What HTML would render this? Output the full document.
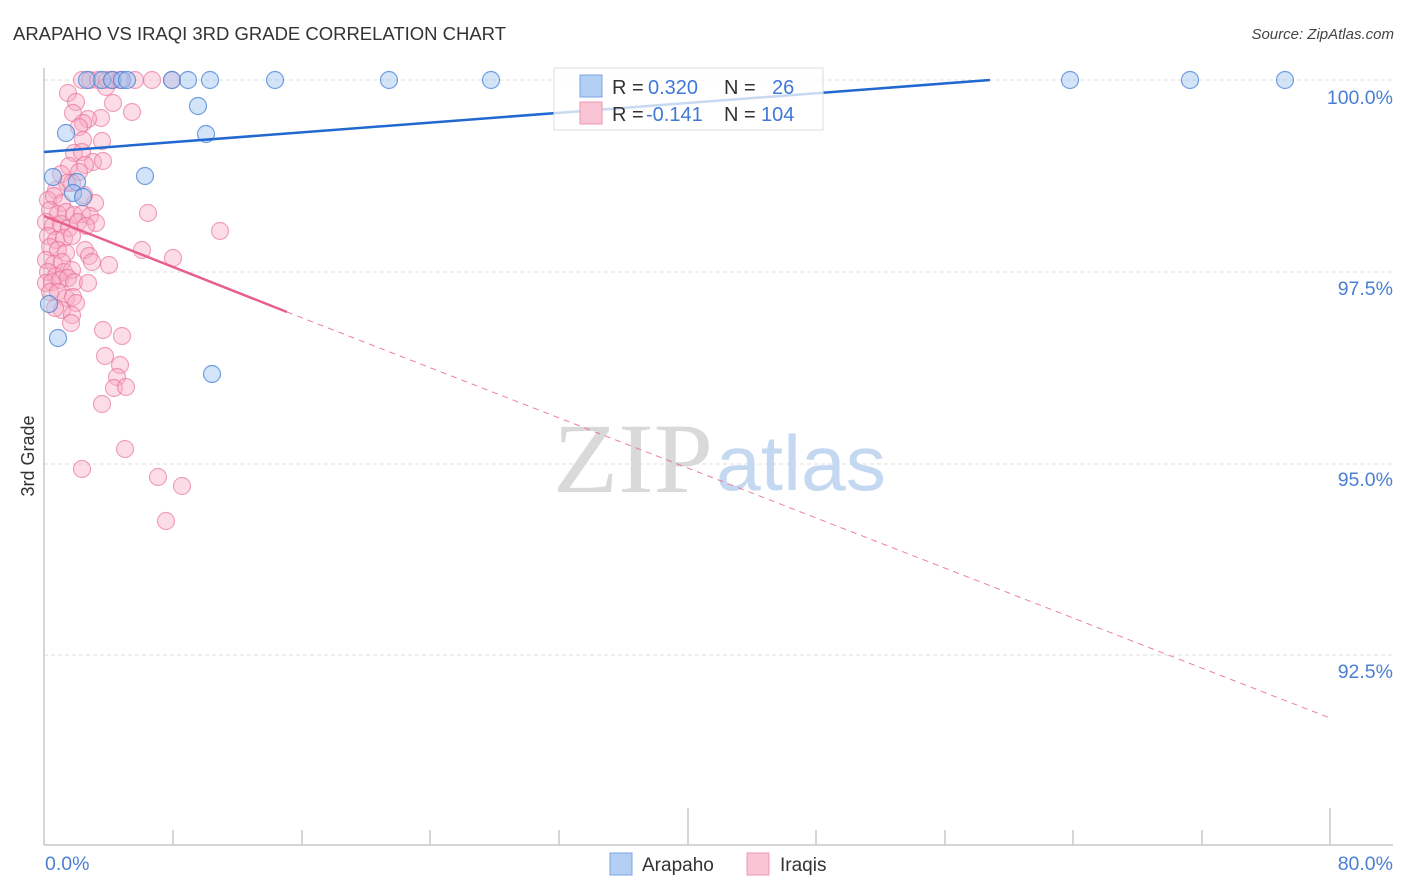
<!DOCTYPE html>
<html><head><meta charset="utf-8"><style>
html,body{margin:0;padding:0;background:#fff;}
svg{display:block;font-family:"Liberation Sans",sans-serif;}
</style></head><body>
<svg width="1406" height="892" viewBox="0 0 1406 892" xmlns="http://www.w3.org/2000/svg">
<rect width="1406" height="892" fill="#fff"/>
<text x="13" y="40" font-size="18" fill="#333" textLength="493" lengthAdjust="spacingAndGlyphs">ARAPAHO VS IRAQI 3RD GRADE CORRELATION CHART</text>
<text x="1394" y="39" font-size="15" fill="#444" font-style="italic" text-anchor="end">Source: ZipAtlas.com</text>

<g stroke="#dcdcdc" stroke-width="1" stroke-dasharray="4,3">
<line x1="44" y1="80" x2="1393" y2="80"/>
<line x1="44" y1="272" x2="1393" y2="272"/>
<line x1="44" y1="464" x2="1393" y2="464"/>
<line x1="44" y1="655" x2="1393" y2="655"/>
</g>
<g stroke="#c8c8c8" stroke-width="1.5">
<line x1="44" y1="68" x2="44" y2="845"/>
<line x1="44" y1="845" x2="1393" y2="845"/>
<line x1="173" y1="830" x2="173" y2="845"/>
<line x1="302" y1="830" x2="302" y2="845"/>
<line x1="430" y1="830" x2="430" y2="845"/>
<line x1="559" y1="830" x2="559" y2="845"/>
<line x1="688" y1="808" x2="688" y2="845"/>
<line x1="816" y1="830" x2="816" y2="845"/>
<line x1="945" y1="830" x2="945" y2="845"/>
<line x1="1073" y1="830" x2="1073" y2="845"/>
<line x1="1202" y1="830" x2="1202" y2="845"/>
<line x1="1330" y1="808" x2="1330" y2="845"/>
</g>

<text x="553" y="492" font-size="100" fill="#d9d9d9" font-family="Liberation Serif,serif" textLength="160" lengthAdjust="spacingAndGlyphs">ZIP</text>
<text x="716" y="490" font-size="78" fill="#c5d8f1" font-family="Liberation Sans,sans-serif" textLength="170" lengthAdjust="spacingAndGlyphs">atlas</text>

<g font-size="19.5" fill="#4a7fd4" text-anchor="end">
<text x="1393" y="104">100.0%</text>
<text x="1393" y="295">97.5%</text>
<text x="1393" y="486">95.0%</text>
<text x="1393" y="678">92.5%</text>
</g>
<text x="45" y="870" font-size="19.5" fill="#4a7fd4">0.0%</text>
<text x="1393" y="870" font-size="19.5" fill="#4a7fd4" text-anchor="end">80.0%</text>
<text transform="translate(34,456) rotate(-90)" font-size="18" fill="#333" text-anchor="middle">3rd Grade</text>

<!-- pink points -->
<g fill="rgba(248,170,195,0.4)" stroke="rgba(232,110,150,0.62)" stroke-width="1.2">
<circle cx="82" cy="80" r="8.5"/><circle cx="90" cy="80" r="8.5"/><circle cx="98" cy="80" r="8.5"/><circle cx="107" cy="80" r="8.5"/><circle cx="113" cy="80" r="8.5"/><circle cx="120" cy="80" r="8.5"/><circle cx="135" cy="80" r="8.5"/><circle cx="152" cy="80" r="8.5"/><circle cx="172" cy="80" r="8.5"/>
<circle cx="106" cy="87" r="8.5"/><circle cx="68" cy="93" r="8.5"/><circle cx="76" cy="102" r="8.5"/><circle cx="113" cy="103" r="8.5"/><circle cx="132" cy="112" r="8.5"/><circle cx="73" cy="113" r="8.5"/><circle cx="101" cy="118" r="8.5"/><circle cx="88" cy="119" r="8.5"/><circle cx="83" cy="123" r="8.5"/><circle cx="79" cy="127" r="8.5"/><circle cx="102" cy="141" r="8.5"/><circle cx="83" cy="140" r="8.5"/><circle cx="74" cy="153" r="8.5"/><circle cx="82" cy="152" r="8.5"/><circle cx="93" cy="162" r="8.5"/><circle cx="103" cy="161" r="8.5"/><circle cx="69" cy="166" r="8.5"/><circle cx="85" cy="165" r="8.5"/><circle cx="79" cy="172" r="8.5"/><circle cx="61" cy="174" r="8.5"/><circle cx="72" cy="183" r="8.5"/><circle cx="67" cy="183" r="8.5"/><circle cx="95" cy="203" r="8.5"/><circle cx="56" cy="190" r="8.5"/><circle cx="84" cy="195" r="8.5"/>
<circle cx="48" cy="200" r="8.5"/><circle cx="54" cy="196" r="8.5"/><circle cx="62" cy="203" r="8.5"/><circle cx="50" cy="210" r="8.5"/><circle cx="58" cy="214" r="8.5"/><circle cx="66" cy="212" r="8.5"/><circle cx="74" cy="215" r="8.5"/><circle cx="82" cy="214" r="8.5"/><circle cx="90" cy="216" r="8.5"/><circle cx="96" cy="223" r="8.5"/><circle cx="46" cy="222" r="8.5"/><circle cx="53" cy="226" r="8.5"/><circle cx="61" cy="224" r="8.5"/><circle cx="69" cy="228" r="8.5"/><circle cx="78" cy="222" r="8.5"/><circle cx="86" cy="226" r="8.5"/><circle cx="48" cy="236" r="8.5"/><circle cx="56" cy="240" r="8.5"/><circle cx="64" cy="238" r="8.5"/><circle cx="72" cy="236" r="8.5"/><circle cx="50" cy="247" r="8.5"/><circle cx="58" cy="250" r="8.5"/><circle cx="66" cy="253" r="8.5"/><circle cx="85" cy="250" r="8.5"/><circle cx="89" cy="256" r="8.5"/><circle cx="92" cy="262" r="8.5"/><circle cx="46" cy="260" r="8.5"/><circle cx="54" cy="264" r="8.5"/><circle cx="62" cy="262" r="8.5"/><circle cx="48" cy="272" r="8.5"/><circle cx="56" cy="276" r="8.5"/><circle cx="64" cy="272" r="8.5"/><circle cx="72" cy="270" r="8.5"/><circle cx="46" cy="283" r="8.5"/><circle cx="52" cy="282" r="8.5"/><circle cx="60" cy="280" r="8.5"/><circle cx="68" cy="278" r="8.5"/><circle cx="74" cy="282" r="8.5"/><circle cx="88" cy="283" r="8.5"/><circle cx="50" cy="292" r="8.5"/><circle cx="58" cy="292" r="8.5"/><circle cx="66" cy="298" r="8.5"/><circle cx="73" cy="297" r="8.5"/><circle cx="76" cy="303" r="8.5"/><circle cx="62" cy="310" r="8.5"/><circle cx="72" cy="315" r="8.5"/><circle cx="71" cy="323" r="8.5"/><circle cx="55" cy="308" r="8.5"/>
<circle cx="148" cy="213" r="8.5"/><circle cx="220" cy="231" r="8.5"/><circle cx="142" cy="250" r="8.5"/><circle cx="173" cy="258" r="8.5"/><circle cx="109" cy="265" r="8.5"/>
<circle cx="103" cy="330" r="8.5"/><circle cx="122" cy="336" r="8.5"/><circle cx="105" cy="356" r="8.5"/><circle cx="120" cy="365" r="8.5"/><circle cx="117" cy="377" r="8.5"/><circle cx="114" cy="388" r="8.5"/><circle cx="126" cy="387" r="8.5"/><circle cx="102" cy="404" r="8.5"/><circle cx="125" cy="449" r="8.5"/><circle cx="82" cy="469" r="8.5"/><circle cx="158" cy="477" r="8.5"/><circle cx="182" cy="486" r="8.5"/><circle cx="166" cy="521" r="8.5"/>
</g>

<!-- blue points -->
<g fill="rgba(160,195,240,0.45)" stroke="rgba(70,130,215,0.75)" stroke-width="1.2">
<circle cx="87" cy="80" r="8.5"/><circle cx="102" cy="80" r="8.5"/><circle cx="112" cy="80" r="8.5"/><circle cx="122" cy="80" r="8.5"/><circle cx="127" cy="80" r="8.5"/><circle cx="172" cy="80" r="8.5"/><circle cx="188" cy="80" r="8.5"/><circle cx="210" cy="80" r="8.5"/><circle cx="275" cy="80" r="8.5"/><circle cx="389" cy="80" r="8.5"/><circle cx="491" cy="80" r="8.5"/><circle cx="1070" cy="80" r="8.5"/><circle cx="1190" cy="80" r="8.5"/><circle cx="1285" cy="80" r="8.5"/>
<circle cx="198" cy="106" r="8.5"/><circle cx="66" cy="133" r="8.5"/><circle cx="206" cy="134" r="8.5"/><circle cx="145" cy="176" r="8.5"/><circle cx="53" cy="177" r="8.5"/><circle cx="77" cy="182" r="8.5"/><circle cx="73" cy="193" r="8.5"/><circle cx="83" cy="197" r="8.5"/><circle cx="49" cy="304" r="8.5"/><circle cx="58" cy="338" r="8.5"/><circle cx="212" cy="374" r="8.5"/>
</g>

<!-- trend lines -->
<line x1="44" y1="152" x2="990" y2="80" stroke="#2168d0" stroke-width="2.5"/>
<line x1="44" y1="216" x2="287" y2="312" stroke="#e8608a" stroke-width="2.5"/>
<line x1="287" y1="312" x2="1330" y2="718" stroke="#e8608a" stroke-width="1" stroke-dasharray="6,5" opacity="0.8"/>

<!-- top legend -->
<rect x="554" y="68" width="269" height="62" fill="#fff" fill-opacity="0.75" stroke="#dcdcdc" stroke-width="1"/>
<rect x="580" y="75" width="22" height="22" fill="#b3cff3" stroke="#7aa6e0" stroke-width="1"/>
<rect x="580" y="102" width="22" height="22" fill="#f9c5d4" stroke="#ee97b2" stroke-width="1"/>
<g font-size="20">
<text x="612" y="94" fill="#333">R =</text>
<text x="648" y="94" fill="#3f78d6">0.320</text>
<text x="724" y="94" fill="#333">N =</text>
<text x="772" y="94" fill="#3f78d6">26</text>
<text x="612" y="121" fill="#333">R =</text>
<text x="646" y="121" fill="#3f78d6">-0.141</text>
<text x="724" y="121" fill="#333">N =</text>
<text x="761" y="121" fill="#3f78d6">104</text>
</g>

<!-- bottom legend -->
<rect x="610" y="853" width="22" height="22" fill="#b3cff3" stroke="#7aa6e0" stroke-width="1"/>
<text x="642" y="871" font-size="19" fill="#333">Arapaho</text>
<rect x="747" y="853" width="22" height="22" fill="#f9c5d4" stroke="#ee97b2" stroke-width="1"/>
<text x="780" y="871" font-size="19" fill="#333">Iraqis</text>
</svg>
</body></html>
